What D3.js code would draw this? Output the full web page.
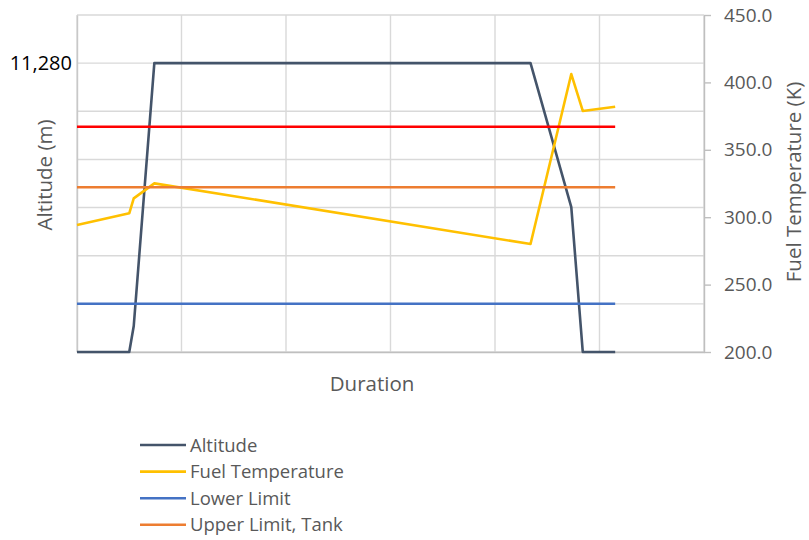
<!DOCTYPE html>
<html>
<head>
<meta charset="utf-8">
<script src="https://cdn.jsdelivr.net/npm/d3@7"></script>
<style>
  body { margin: 0; background: #fff; }
  svg { display: block; font-family: "Open Sans", "Noto Sans", sans-serif; }
</style>
</head>
<body>
<svg id="chart" width="809" height="540"></svg>
<script>
// ---- data ----
const time = [0, 5.0, 5.43, 7.4, 43.4, 47.3, 48.4, 51.5];          // duration (arbitrary units)
const altitude = [0, 0, 1015, 11280, 11280, 5660, 0, 0];              // m
const fuelTemp = [294.2, 302.9, 314.0, 325.1, 280.1, 406.2, 378.8, 382.0]; // K
const lowerLimit = 235.8;      // K
const upperLimitTank = 322.2;  // K
const upperLimitRed = 367.1;   // K (no legend entry)
const altTicks = [0, 1880, 3760, 5640, 7520, 9400, 11280, 13160];
const altLabelled = [11280];
const tempTicks = [200, 250, 300, 350, 400, 450];
const timeGrid = [0, 10, 20, 30, 40, 50, 60];
const legendNames = ["Altitude", "Fuel Temperature", "Lower Limit", "Upper Limit, Tank"];
const colors = { alt: "#44546A", fuel: "#FFC000", lower: "#4472C4", upper: "#ED7D31", red: "#FF0000" };

// ---- layout ----
const svg = d3.select("#chart");
const L = 77, R = 704, T = 15, B = 352;

const x = d3.scaleLinear().domain([0, 60]).range([L, R]);
const yAlt = d3.scaleLinear().domain([0, 13160]).range([B, T]);
const yTemp = d3.scaleLinear().domain([200, 450]).range([B, T]);

// gridlines
const grid = svg.append("g");
grid.selectAll("line.h").data(altTicks).join("line")
  .attr("x1", L).attr("x2", R)
  .attr("y1", d => yAlt(d)).attr("y2", d => yAlt(d))
  .attr("stroke", "#d9d9d9").attr("stroke-width", 1.4);
grid.selectAll("line.v").data(timeGrid).join("line")
  .attr("y1", T).attr("y2", B)
  .attr("x1", d => x(d)).attr("x2", d => x(d))
  .attr("stroke", "#d9d9d9").attr("stroke-width", 1.4);

// axes
const leftAxis = svg.append("g").attr("transform", `translate(${L},0)`)
  .call(d3.axisLeft(yAlt).tickValues(altLabelled).tickSize(0).tickPadding(5)
    .tickFormat(d3.format(",")));
leftAxis.select(".domain").attr("stroke", "#c8c8c8").attr("stroke-width", 1.4);
leftAxis.selectAll("text").attr("font-size", 20).attr("fill", "#000")
  .attr("font-family", "'Open Sans', sans-serif");

const rightAxis = svg.append("g").attr("transform", `translate(${R},0)`)
  .call(d3.axisRight(yTemp).tickValues(tempTicks).tickSize(7).tickSizeOuter(0).tickPadding(13)
    .tickFormat(d3.format(".1f")));
rightAxis.select(".domain").attr("stroke", "#bfbfbf").attr("stroke-width", 1.4);
rightAxis.selectAll(".tick line").attr("stroke", "#bfbfbf").attr("stroke-width", 1.4);
rightAxis.selectAll("text").attr("font-size", 19).attr("fill", "#595959")
  .attr("font-family", "'Open Sans', sans-serif");

const bottomAxis = svg.append("g").attr("transform", `translate(0,${B})`)
  .call(d3.axisBottom(x).tickValues([]).tickSize(0));
bottomAxis.select(".domain").attr("stroke", "#bfbfbf").attr("stroke-width", 1.6);

// series
const pts = (ys) => time.map((t, i) => [t, ys[i]]);
const lineAlt = d3.line().x(d => x(d[0])).y(d => yAlt(d[1]));
const lineTemp = d3.line().x(d => x(d[0])).y(d => yTemp(d[1]));
const tStart = time[0], tEnd = time[time.length - 1];

svg.append("path").datum(pts(altitude)).attr("d", lineAlt)
  .attr("fill", "none").attr("stroke", colors.alt).attr("stroke-width", 2.6).attr("stroke-linejoin", "round");
svg.append("path").datum(pts(fuelTemp)).attr("d", lineTemp)
  .attr("fill", "none").attr("stroke", colors.fuel).attr("stroke-width", 2.6).attr("stroke-linejoin", "round");
[[lowerLimit, colors.lower], [upperLimitTank, colors.upper], [upperLimitRed, colors.red]].forEach(([v, c]) => {
  svg.append("path").datum([[tStart, v], [tEnd, v]]).attr("d", lineTemp)
    .attr("fill", "none").attr("stroke", c).attr("stroke-width", 2.6);
});

// axis titles
const style = size => s => s.attr("font-size", size).attr("fill", "#595959")
  .attr("font-family", "'Open Sans', sans-serif");
svg.append("text").attr("x", 372).attr("y", 391).attr("text-anchor", "middle")
  .text("Duration").call(style(20.5));
svg.append("text").attr("transform", "translate(52,175) rotate(-90)").attr("text-anchor", "middle")
  .text("Altitude (m)").call(style(20.5));
svg.append("text").attr("transform", "translate(801,182) rotate(-90)").attr("text-anchor", "middle")
  .text("Fuel Temperature (K)").call(style(20.5));

// legend
const legColors = [colors.alt, colors.fuel, colors.lower, colors.upper];
const leg = svg.append("g");
legendNames.forEach((n, i) => {
  const yy = 445 + i * 26.6;
  leg.append("line").attr("x1", 140).attr("x2", 186).attr("y1", yy).attr("y2", yy)
    .attr("stroke", legColors[i]).attr("stroke-width", 2.6);
  leg.append("text").attr("x", 190).attr("y", yy + 6.5).text(n).call(style(18.5));
});
</script>
</body>
</html>
